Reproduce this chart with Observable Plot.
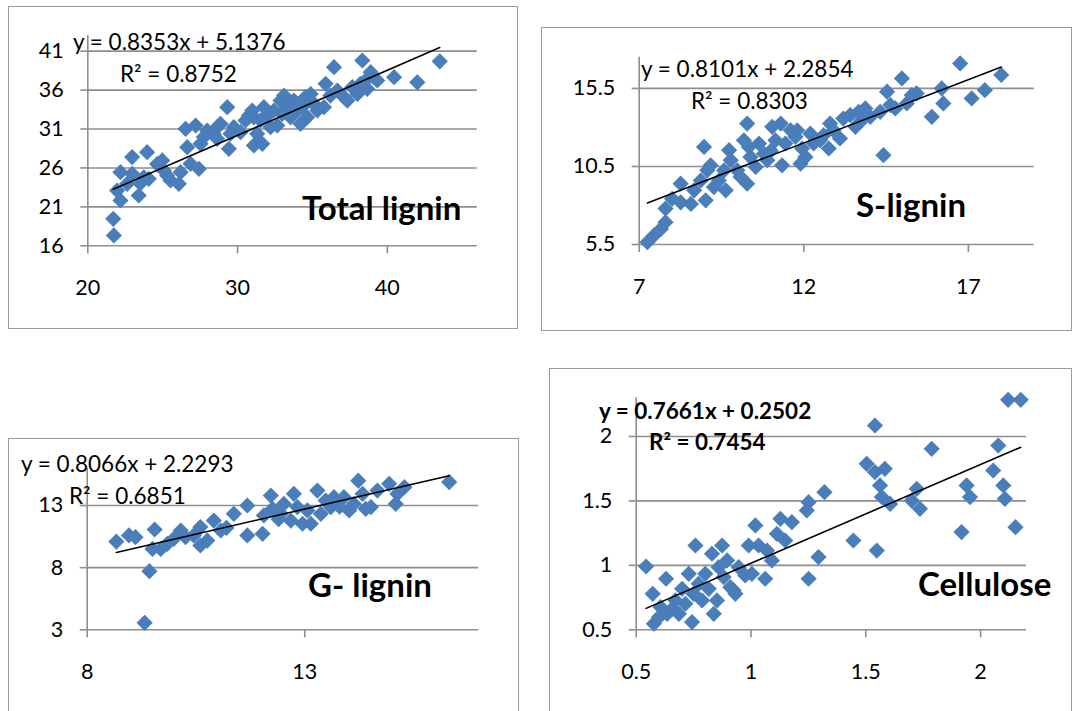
<!DOCTYPE html>
<html>
<head>
<meta charset="utf-8">
<script src="https://cdn.jsdelivr.net/npm/d3@7"></script>
<script src="https://cdn.jsdelivr.net/npm/@observablehq/plot@0.6"></script>
<style>
  html, body { margin: 0; padding: 0; background: #fff; }
  body { width: 1077px; height: 711px; position: relative; overflow: hidden; font-family: Lato, "Open Sans", sans-serif; }
  .box { position: absolute; border: 1.5px solid #9a9a9a; box-sizing: border-box; }
  .svgwrap { position: absolute; }
  .txt { position: absolute; white-space: nowrap; line-height: 1; color: #000; }
</style>
</head>
<body>
<script>
// ---------- DATA ----------
// Total lignin
const totalX = [21.74,21.7,22.18,21.96,22.18,22.63,22.96,22.96,23.4,23.5,23.74,23.96,24.07,24.63,24.97,25.08,25.3,25.52,26.08,26.2,26.64,26.53,26.86,27.2,27.42,27.53,27.75,27.97,28.4,28.64,28.86,28.64,29.31,29.42,29.53,29.75,30.2,30.53,30.76,30.98,31.09,31.09,31.31,31.53,31.76,31.65,32.0,32.2,32.43,32.65,32.87,33.1,32.98,33.3,33.54,33.76,33.99,34.2,34.32,34.54,34.65,34.88,35.1,35.32,35.77,35.88,36.2,36.44,36.66,37.1,37.33,37.66,38.0,38.2,38.33,38.55,38.66,38.89,39.1,39.33,40.45,42.0,43.5];
const totalY = [17.33,19.47,21.82,23.1,25.46,23.96,27.4,25.25,22.46,24.0,24.8,28.03,24.6,26.5,26.96,25.67,25.03,24.4,23.96,25.46,28.67,31.03,26.53,31.45,25.89,29.1,29.96,30.8,30.4,31.24,31.67,29.74,33.8,28.46,30.4,31.24,30.6,32.1,32.74,33.38,28.89,32.5,30.38,32.1,33.8,29.1,32.74,31.24,33.38,31.45,34.66,35.3,32.95,33.8,32.5,34.66,33.38,31.67,33.8,35.1,32.5,35.5,34.24,33.38,33.8,36.8,35.3,38.94,35.95,35.1,34.66,36.38,35.5,36.8,39.8,37.23,36.16,38.3,37.66,37.23,37.66,37.0,39.7];
const totalXTicks = [20, 30, 40];
const totalYTicks = [16, 21, 26, 31, 36, 41];
const totalFit = [0.8353, 5.1376, 0.8752];

// S-lignin
const sX = [7.25,7.45,7.66,7.8,7.8,8.0,8.26,8.26,8.57,8.67,8.87,8.97,9.02,9.07,9.17,9.27,9.42,9.63,9.73,9.78,9.98,10.08,10.28,10.28,10.33,10.38,10.54,10.64,10.79,10.89,11.04,11.14,11.3,11.34,11.44,11.6,11.75,11.8,11.9,11.95,12.05,12.2,12.3,12.5,12.76,12.8,12.9,13.1,13.2,13.41,13.57,13.67,13.77,13.87,14.02,14.32,14.42,14.53,14.63,14.78,14.98,15.13,15.28,15.43,15.89,16.19,16.24,16.75,17.1,17.5,18.0,9.58,10.18,11.0,12.6];
const sY = [5.65,6.08,6.5,6.93,7.8,8.43,9.4,8.2,8.1,8.97,9.6,11.75,8.33,10.25,10.57,9.18,9.6,8.97,11.54,10.9,10.25,9.83,13.25,9.4,11.75,11.1,10.47,11.97,11.32,10.9,13.04,12.18,13.25,10.57,11.97,12.82,12.4,12.82,10.68,11.65,11.1,12.6,11.97,12.18,11.65,13.25,12.82,12.29,13.57,13.79,13.04,14.0,13.47,14.22,13.68,14.0,11.22,15.29,14.43,14.22,16.14,14.54,15.07,15.18,13.68,15.5,14.54,17.1,14.86,15.39,16.36,10.25,12.18,11.5,12.5];
const sXTicks = [7, 12, 17];
const sYTicks = [5.5, 10.5, 15.5];
const sFit = [0.8101, 2.2854, 0.8303];

// G-lignin
const gX = [8.67,8.96,9.11,9.32,9.43,9.55,9.5,9.69,9.84,9.99,10.15,10.26,10.45,10.6,10.6,10.76,10.91,11.07,11.37,11.68,11.68,12.03,12.06,12.22,12.26,12.45,12.52,12.68,12.75,12.83,12.95,13.06,13.14,13.29,13.37,13.48,13.6,13.67,13.9,14.02,14.13,14.23,14.33,14.4,14.52,14.67,14.94,15.09,15.13,15.29,16.32,11.2,12.4,13.8];
const gY = [10.1,10.59,10.45,3.56,7.72,11.07,9.51,9.51,9.92,10.32,10.99,10.45,10.59,11.26,9.78,10.18,11.79,10.99,12.33,13.0,10.59,10.72,12.2,13.8,12.73,12.33,13.13,11.79,13.94,12.87,11.53,12.6,11.53,14.2,12.33,13.4,12.87,13.67,13.67,12.6,13.13,15.0,13.94,12.73,12.87,14.2,14.74,13.13,13.94,14.47,14.88,11.2,11.9,12.9];
const gXTicks = [8, 13];
const gYTicks = [3, 8, 13];
const gFit = [0.8066, 2.2293, 0.6851];

// Cellulose
const cX = [0.543,0.572,0.577,0.599,0.606,0.63,0.635,0.657,0.671,0.686,0.7,0.714,0.729,0.743,0.75,0.758,0.772,0.787,0.801,0.816,0.83,0.838,0.852,0.859,0.874,0.881,0.896,0.91,0.925,0.932,0.946,0.975,0.99,1.004,1.019,1.033,1.062,1.07,1.091,1.113,1.128,1.149,1.178,1.243,1.251,1.251,1.294,1.32,1.446,1.504,1.54,1.54,1.548,1.562,1.57,1.583,1.606,1.7,1.722,1.736,1.787,1.917,1.939,1.954,2.055,2.077,2.099,2.106,2.12,2.152,2.175];
const cY = [0.991,0.779,0.547,0.598,0.676,0.896,0.624,0.663,0.728,0.624,0.818,0.702,0.934,0.56,0.779,1.154,0.857,0.728,0.934,0.818,1.09,0.624,0.728,0.986,1.154,0.909,1.038,0.831,0.805,0.779,0.986,0.922,1.154,0.934,1.31,1.154,0.896,1.115,1.038,1.245,1.361,1.193,1.335,1.426,1.49,0.896,1.064,1.568,1.193,1.788,2.085,1.723,1.115,1.62,1.53,1.749,1.477,1.503,1.594,1.439,1.904,1.258,1.62,1.53,1.736,1.93,1.62,1.516,2.284,1.296,2.284];
const cXTicks = [0.5, 1, 1.5, 2];
const cYTicks = [0.5, 1, 1.5, 2];
const cFit = [0.7661, 0.2502, 0.7454];

const panelNames = ["Total lignin", "S-lignin", "G- lignin", "Cellulose"];

// ---------- STYLE ----------
const markerColor = "#4a7ebb";
const gridColor = "#8e8e8e";

function addBox(l, t, r, b) {
  const d = document.createElement("div");
  d.className = "box";
  Object.assign(d.style, {left: l + "px", top: t + "px", width: (r - l) + "px", height: (b - t) + "px"});
  document.body.appendChild(d);
}
function addText(str, left, cy, size, bold) {
  const d = document.createElement("div");
  d.className = "txt";
  d.textContent = str;
  Object.assign(d.style, {left: left + "px", top: (cy - 0.53 * size) + "px", fontSize: size + "px", fontWeight: bold ? "700" : "400"});
  document.body.appendChild(d);
}

function panel(o) {
  const data = o.xs.map((x, i) => ({x, y: o.ys[i]}));
  const [m, b] = o.fit;
  const x0 = d3.min(o.xs), x1 = d3.max(o.xs);
  const trend = [{x: x0, y: m * x0 + b}, {x: x1, y: m * x1 + b}];
  const chart = Plot.plot({
    width: o.w, height: o.h,
    marginLeft: o.ml, marginRight: o.mr, marginTop: o.mt, marginBottom: o.mb,
    style: {fontFamily: "Lato, 'Open Sans', sans-serif", fontSize: "21.5px", color: "#000", background: "transparent", overflow: "visible"},
    x: {type: "linear", domain: o.xDomain, label: null},
    y: {type: "linear", domain: o.yDomain, label: null},
    marks: [
      Plot.gridY(o.yTicks, {stroke: gridColor, strokeOpacity: 1, strokeWidth: 1.6}),
      Plot.ruleX([o.xDomain[0]], {stroke: gridColor, strokeWidth: 1.6}),
      Plot.axisY(o.yTicks, {tickSize: 7, tickPadding: 17, stroke: gridColor, strokeWidth: 1.6, fill: "#000", tickFormat: d => String(d), label: null}),
      Plot.axisX(o.xTicks, {tickSize: 8, tickPadding: 26, stroke: gridColor, strokeWidth: 1.6, fill: "#000", tickFormat: d => String(d), label: null}),
      Plot.dot(data, {x: "x", y: "y", symbol: "diamond2", r: 7.3, fill: markerColor, stroke: null}),
      Plot.line(trend, {x: "x", y: "y", stroke: "#000", strokeWidth: 1.6})
    ]
  });
  const wrap = document.createElement("div");
  wrap.className = "svgwrap";
  wrap.style.left = o.sx + "px";
  wrap.style.top = o.sy + "px";
  wrap.appendChild(chart);
  document.body.appendChild(wrap);
}

// Boxes
addBox(8, 6, 518, 329);
addBox(541, 27, 1072, 331);
addBox(8, 438, 519, 730);
addBox(549, 368, 1072, 730);

// Panels
panel({xs: totalX, ys: totalY, fit: totalFit, xDomain: [20, 46], yDomain: [16, 43], xTicks: totalXTicks, yTicks: totalYTicks,
  sx: 0, sy: 0, w: 530, h: 330, ml: 87.3, mr: 53.3, mt: 35.1, mb: 84.7});
panel({xs: sX, ys: sY, fit: sFit, xDomain: [7, 19], yDomain: [5.5, 17.5], xTicks: sXTicks, yTicks: sYTicks,
  sx: 535, sy: 0, w: 542, h: 340, ml: 103.7, mr: 43.3, mt: 56.7, mb: 96});
panel({xs: gX, ys: gY, fit: gFit, xDomain: [8, 17], yDomain: [3, 16], xTicks: gXTicks, yTicks: gYTicks,
  sx: 0, sy: 380, w: 530, h: 331, ml: 86.7, mr: 51.7, mt: 87.7, mb: 81.7});
panel({xs: cX, ys: cY, fit: cFit, xDomain: [0.5, 2.2], yDomain: [0.5, 2.3], xTicks: cXTicks, yTicks: cYTicks,
  sx: 540, sy: 360, w: 537, h: 351, ml: 95.7, mr: 51, mt: 37.3, mb: 81.7});

// Annotations
const eq = f => `y = ${f[0].toFixed(4)}x + ${f[1].toFixed(4)}`;
const r2 = f => `R² = ${f[2].toFixed(4)}`;
const eqSize = 22.5, labelSize = 33;
addText(eq(totalFit), 73, 43, eqSize, false);
addText(r2(totalFit), 120, 75, eqSize, false);
addText(panelNames[0], 302, 208, labelSize, true);

addText(eq(sFit), 641, 70, eqSize, false);
addText(r2(sFit), 691, 101.7, eqSize, false);
addText(panelNames[1], 856, 205, labelSize, true);

addText(eq(gFit), 21, 465, eqSize, false);
addText(r2(gFit), 69, 497, eqSize, false);
addText(panelNames[2], 308, 585, labelSize, true);

addText(eq(cFit), 599, 411.7, eqSize, true);
addText(r2(cFit), 649, 443.3, eqSize, true);
addText(panelNames[3], 918, 584, labelSize, true);
</script>
</body>
</html>
